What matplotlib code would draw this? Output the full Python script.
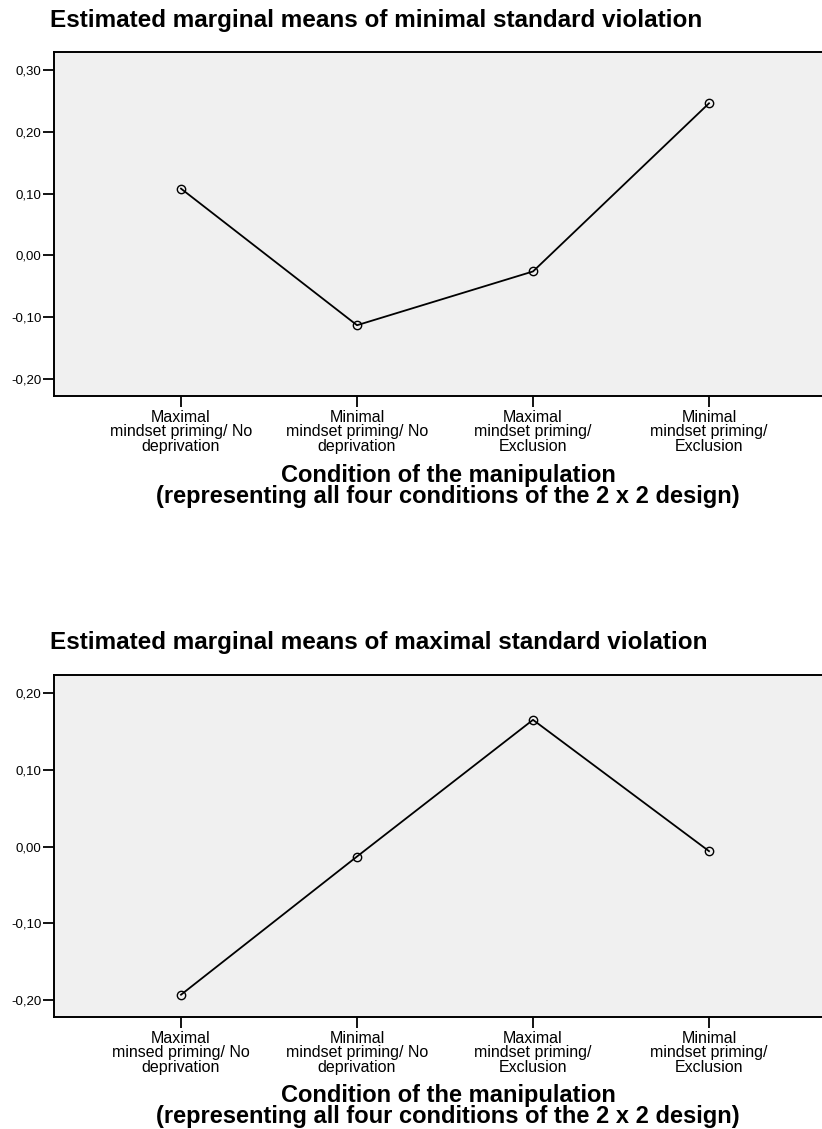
import matplotlib
matplotlib.use("Agg")
import matplotlib.pyplot as plt
from matplotlib.ticker import FuncFormatter

plt.rcParams['font.family'] = ['Liberation Sans', 'DejaVu Sans']

# ---- data ----
cats_top = ["Maximal\nmindset priming/ No\ndeprivation",
            "Minimal\nmindset priming/ No\ndeprivation",
            "Maximal\nmindset priming/\nExclusion",
            "Minimal\nmindset priming/\nExclusion"]
vals_top = [0.108, -0.113, -0.026, 0.246]
yticks_top = [-0.20, -0.10, 0.00, 0.10, 0.20, 0.30]
title_top = "Estimated marginal means of minimal standard violation"

cats_bot = ["Maximal\nminsed priming/ No\ndeprivation",
            "Minimal\nmindset priming/ No\ndeprivation",
            "Maximal\nmindset priming/\nExclusion",
            "Minimal\nmindset priming/\nExclusion"]
vals_bot = [-0.193, -0.013, 0.165, -0.006]
yticks_bot = [-0.20, -0.10, 0.00, 0.10, 0.20]
title_bot = "Estimated marginal means of maximal standard violation"

xlabel = "Condition of the manipulation\n(representing all four conditions of the 2 x 2 design)"

W, H = 822, 1129
fig = plt.figure(figsize=(W / 100, H / 100), dpi=100)

def px_axes(left, top, right, bottom):
    return fig.add_axes([left / W, 1 - bottom / H, (right - left) / W, (bottom - top) / H])

fmt = FuncFormatter(lambda v, p: f"{v:.2f}".replace(".", ","))

def draw(ax, cats, vals, yticks, ylim, title, title_y, xlabel_y):
    x = list(range(len(cats)))
    ax.set_facecolor("#f0f0f0")
    ax.plot(x, vals, color="black", lw=1.3, marker="o", markersize=6,
            markerfacecolor="none", markeredgecolor="black", markeredgewidth=1.0)
    ax.set_xlim(-0.7216, 3.642)
    ax.set_ylim(*ylim)
    ax.set_yticks(yticks)
    ax.yaxis.set_major_formatter(fmt)
    ax.set_xticks(x)
    ax.set_xticklabels(cats, fontsize=11.5, linespacing=0.95)
    ax.tick_params(axis="both", length=8, width=1.3, color="black", direction="out")
    ax.tick_params(axis="y", labelsize=9.5, pad=1)
    ax.tick_params(axis="x", pad=2)
    for s in ["left", "bottom", "top"]:
        ax.spines[s].set_linewidth(1.4)
        ax.spines[s].set_color("black")
    ax.spines["right"].set_visible(False)
    fig.text(50 / W, 1 - title_y / H, title, fontsize=17.5, fontweight="bold",
             ha="left", va="center")
    fig.text(448 / W, 1 - xlabel_y / H, xlabel, fontsize=17, fontweight="bold",
             ha="center", va="center", linespacing=0.85)

ax1 = px_axes(54, 52, 822, 396)
draw(ax1, cats_top, vals_top, yticks_top, (-0.2275, 0.329), title_top, 20, 486)

ax2 = px_axes(54, 675, 822, 1017)
draw(ax2, cats_bot, vals_bot, yticks_bot, (-0.222, 0.2234), title_bot, 643, 1106)

fig.savefig("out.png", dpi=100)
